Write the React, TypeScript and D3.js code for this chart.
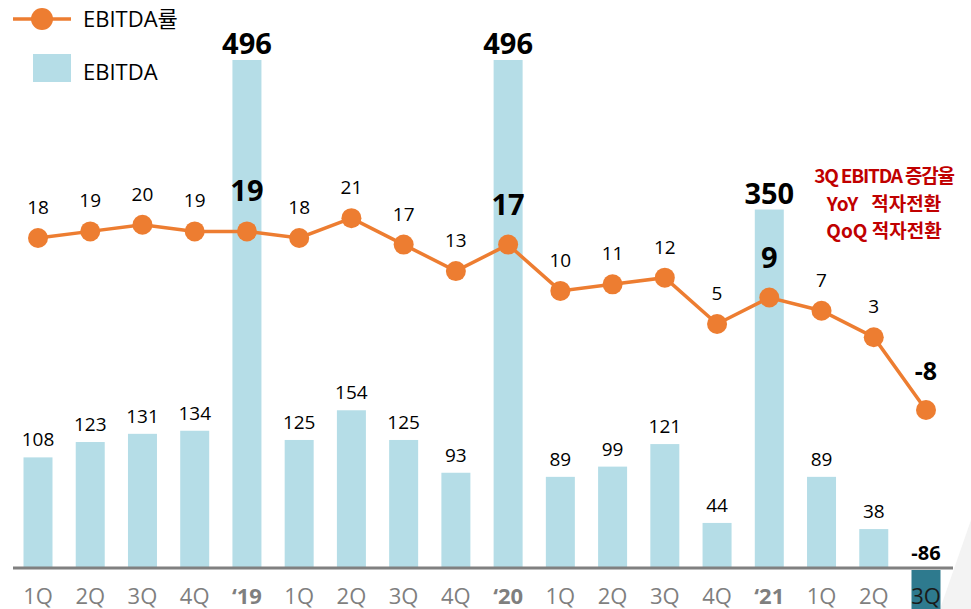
import React from 'react';
import * as d3 from 'd3';

const categories = ['1Q', '2Q', '3Q', '4Q', '‘19', '1Q', '2Q', '3Q', '4Q', '‘20', '1Q', '2Q', '3Q', '4Q', '‘21', '1Q', '2Q', '3Q'];
const annual = [false, false, false, false, true, false, false, false, false, true, false, false, false, false, true, false, false, false];
const ebitda = [108, 123, 131, 134, 496, 125, 154, 125, 93, 496, 89, 99, 121, 44, 350, 89, 38, -86];
const ebitdaRate = [18, 19, 20, 19, 19, 18, 21, 17, 13, 17, 10, 11, 12, 5, 9, 7, 3, -8];
const annotation = ['3Q EBITDA 증감율', 'YoY   적자전환', 'QoQ 적자전환'];
const legendLabels = ['EBITDA률', 'EBITDA'];

const W = 971;
const H = 609;
const FONT = "'Open Sans', 'Noto Sans CJK KR', sans-serif";
const ORANGE = '#ed7d31';
const BAR = '#b5dde7';
const NEG = '#2e7a8e';

export default function App() {
  const idx = categories.map((_, i) => i);
  const x = d3.scalePoint<number>().domain(idx).range([38, 926]);
  const yBar = d3.scaleLinear().domain([0, 496]).range([568, 60]);
  const yRate = d3.scaleLinear().domain([-8, 18]).range([410, 238]);
  const barW = 29;
  const line = d3.line<number>().x((_, i) => x(i)!).y((d) => yRate(d));
  const last = categories.length - 1;

  return (
    <svg width={W} height={H} style={{ position: 'fixed', left: 0, top: 0, background: '#fff' }} fontFamily={FONT}>
      {/* faint decorative stripes bottom-right */}
      <polygon points="940,609 971,520 971,609" fill="#f3f3f3" />
      {/* bars */}
      {ebitda.map((v, i) => {
        const y0 = yBar(0);
        const y1 = yBar(v);
        return (
          <rect key={'b' + i} x={x(i)! - barW / 2} y={Math.min(y0, y1) + (v < 0 ? 2 : 0)} width={barW}
            height={Math.abs(y1 - y0)} fill={v < 0 ? NEG : BAR} />
        );
      })}
      {/* axis */}
      <line x1={13} x2={953} y1={yBar(0)} y2={yBar(0)} stroke="#808080" strokeWidth={3} />
      {categories.map((c, i) => (
        <text key={'t' + i} x={x(i)} y={604} textAnchor="middle" fontSize={22}
          fontWeight={annual[i] ? 'bold' : 'normal'} fill={i === last ? '#1a1a1a' : '#7f7f7f'}>{c}</text>
      ))}
      {/* bar labels */}
      {ebitda.map((v, i) => {
        if (v < 0) {
          return <text key={'bl' + i} x={x(i)} y={yBar(0) - 8} textAnchor="middle" fontSize={20} fontWeight="bold" fill="#000">{v}</text>;
        }
        return (
          <text key={'bl' + i} x={x(i)} y={yBar(v) - (annual[i] ? 6 : 11)} textAnchor="middle"
            fontSize={annual[i] ? 29 : 19} fontWeight={annual[i] ? 'bold' : 'normal'} fill="#000">{v}</text>
        );
      })}
      {/* line */}
      <path d={line(ebitdaRate) || ''} fill="none" stroke={ORANGE} strokeWidth={3.5} />
      {ebitdaRate.map((v, i) => (
        <circle key={'c' + i} cx={x(i)} cy={yRate(v)} r={10} fill={ORANGE} />
      ))}
      {ebitdaRate.map((v, i) => {
        const big = annual[i] || i === last;
        return (
          <text key={'rl' + i} x={x(i)} y={yRate(v) - (big ? 30 : 24)} textAnchor="middle"
            fontSize={big ? (i === last ? 25 : 29) : 19} fontWeight={big ? 'bold' : 'normal'} fill="#000">{v}</text>
        );
      })}
      {/* annotation */}
      {annotation.map((t, i) => (
        <text key={'a' + i} x={884} y={183 + i * 27.5} textAnchor="middle" fontSize={19} fontWeight="bold"
          fill="#c00000" letterSpacing={i === 0 ? -1.2 : 0} style={{ whiteSpace: 'pre' }}
          fontFamily="'Noto Sans CJK KR', sans-serif">{t}</text>
      ))}
      {/* legend */}
      <line x1={13} x2={71} y1={19} y2={19} stroke={ORANGE} strokeWidth={3.5} />
      <circle cx={42} cy={19} r={11} fill={ORANGE} />
      <text x={83} y={27} fontSize={22} fill="#000">{legendLabels[0]}</text>
      <rect x={33} y={54} width={38} height={28} fill={BAR} />
      <text x={83} y={80} fontSize={22} fill="#000">{legendLabels[1]}</text>
    </svg>
  );
}
